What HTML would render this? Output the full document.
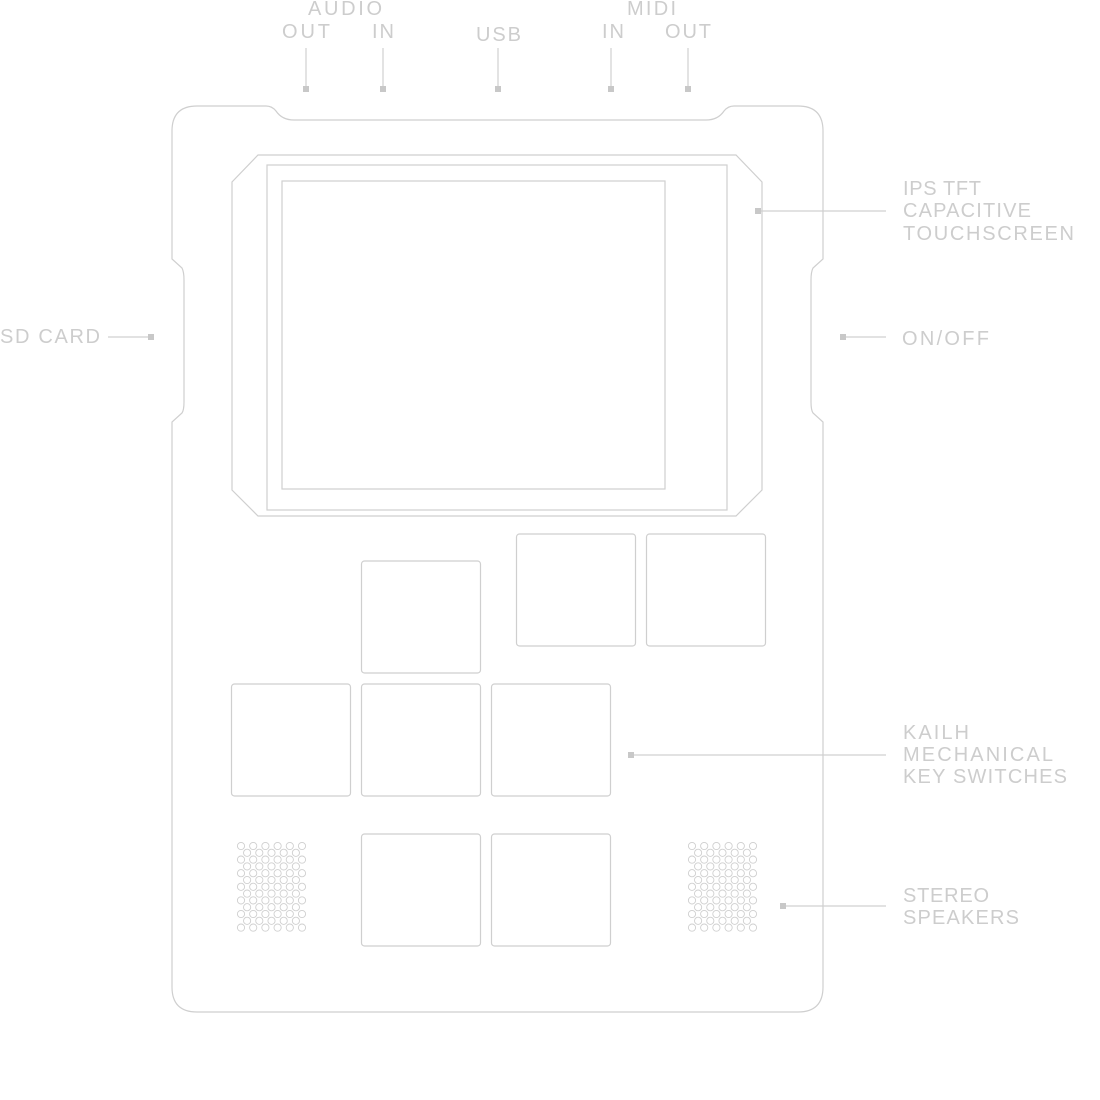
<!DOCTYPE html>
<html><head><meta charset="utf-8"><style>
html,body{margin:0;padding:0;background:#fff;width:1100px;height:1100px;overflow:hidden}
svg{display:block}
text{font-family:"Liberation Sans",sans-serif;font-size:20px;fill:#cdcdcd}
</style></head><body>
<svg id="s" width="1100" height="1100" viewBox="0 0 1100 1100" xmlns="http://www.w3.org/2000/svg">
<g fill="none" stroke="#cfcfcf" stroke-width="1.2">
<path d="M197,106 L266,106 Q272,106 276,111 Q282,120 294,120 L706,120 Q718,120 724,111 Q728,106 734,106 L798,106 Q823,106 823,131 L823,259 L813,268 Q811,272 811,280 L811,402 Q811,410 813,413 L823,422 L823,987 Q823,1012 798,1012 L197,1012 Q172,1012 172,987 L172,422 L182,413 Q184,410 184,402 L184,280 Q184,272 182,268 L172,259 L172,131 Q172,106 197,106 Z"/>
<path d="M258,155 L736,155 L762,182 L762,490 L736,516 L258,516 L232,490 L232,182 Z"/>
<rect x="267" y="165" width="460" height="345"/>
<rect x="282" y="181" width="383" height="308"/>
<rect x="516.5" y="534" width="119" height="112" rx="3"/>
<rect x="646.5" y="534" width="119" height="112" rx="3"/>
<rect x="361.5" y="561" width="119" height="112" rx="3"/>
<rect x="231.5" y="684" width="119" height="112" rx="3"/>
<rect x="361.5" y="684" width="119" height="112" rx="3"/>
<rect x="491.5" y="684" width="119" height="112" rx="3"/>
<rect x="361.5" y="834" width="119" height="112" rx="3"/>
<rect x="491.5" y="834" width="119" height="112" rx="3"/>
<g id="spk"></g>
</g>
<g stroke="#d0d0d0" stroke-width="1.2">
<line x1="306" y1="48" x2="306" y2="88"/><line x1="383" y1="48" x2="383" y2="88"/>
<line x1="498" y1="48" x2="498" y2="88"/><line x1="611" y1="48" x2="611" y2="88"/>
<line x1="688" y1="48" x2="688" y2="88"/>
<line x1="108" y1="337" x2="148" y2="337"/>
<line x1="846" y1="337" x2="886" y2="337"/>
<line x1="760" y1="211" x2="886" y2="211"/>
<line x1="634" y1="755" x2="886" y2="755"/>
<line x1="786" y1="906" x2="886" y2="906"/>
</g>
<g fill="#c8c8c8">
<rect x="303" y="86" width="6" height="6"/><rect x="380" y="86" width="6" height="6"/>
<rect x="495" y="86" width="6" height="6"/><rect x="608" y="86" width="6" height="6"/>
<rect x="685" y="86" width="6" height="6"/>
<rect x="148" y="334" width="6" height="6"/><rect x="840" y="334" width="6" height="6"/>
<rect x="755" y="208" width="6" height="6"/><rect x="628" y="752" width="6" height="6"/>
<rect x="780" y="903" width="6" height="6"/>
</g>
<text x="308" y="15" textLength="74">AUDIO</text>
<text x="282" y="38" textLength="48">OUT</text>
<text x="372" y="38" textLength="22">IN</text>
<text x="476" y="41" textLength="45">USB</text>
<text x="627" y="15" textLength="49">MIDI</text>
<text x="602" y="38" textLength="22">IN</text>
<text x="665" y="38" textLength="46">OUT</text>
<text x="0" y="343" textLength="100">SD CARD</text>
<text x="902" y="345" textLength="87">ON/OFF</text>
<text x="903" y="195" textLength="78">IPS TFT</text>
<text x="903" y="217" textLength="128">CAPACITIVE</text>
<text x="903" y="240" textLength="171">TOUCHSCREEN</text>
<text x="903" y="739" textLength="66">KAILH</text>
<text x="903" y="761" textLength="150">MECHANICAL</text>
<text x="903" y="783" textLength="164">KEY SWITCHES</text>
<text x="903" y="902" textLength="86">STEREO</text>
<text x="903" y="924" textLength="116">SPEAKERS</text>
</svg>
<script>
var g=document.getElementById('spk'),h='';
[241,692].forEach(function(x0){
 for(var r=0;r<13;r++){
  var y=846+r*6.8, off=r%2, n=off?5:6;
  for(var c=0;c<n;c++){var x=x0+c*12.2+(off?6.1:0);
   h+='<circle cx="'+x.toFixed(1)+'" cy="'+y.toFixed(1)+'" r="3.6" stroke-width="0.9"/>';}
 }
});
g.innerHTML=h;
</script>
</body></html>
